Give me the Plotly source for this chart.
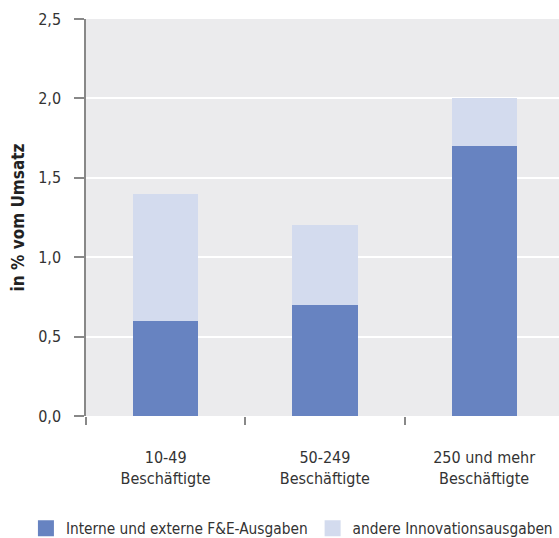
import plotly.graph_objects as go

categories = ["10-49<br>Beschäftigte", "50-249<br>Beschäftigte", "250 und mehr<br>Beschäftigte"]
fue_ausgaben = [0.6, 0.7, 1.7]
andere_ausgaben = [0.8, 0.5, 0.3]

series = [
    ("Interne und externe F&E-Ausgaben", fue_ausgaben, "#6783c1"),
    ("andere Innovationsausgaben", andere_ausgaben, "#d3dbee"),
]

FONT = "DejaVu Sans Condensed, Liberation Sans Narrow, sans-serif"

fig = go.Figure()
for name, vals, color in series:
    fig.add_trace(go.Bar(x=categories, y=vals, name=name, showlegend=False,
                         marker=dict(color=color, line=dict(width=0))))
# legend entries with bigger square swatches
for name, vals, color in series:
    fig.add_trace(go.Scatter(x=[None], y=[None], mode="markers", name=name,
                             marker=dict(symbol="square", size=17, color=color)))

fig.update_layout(
    barmode="stack",
    bargap=0.59,
    width=559, height=538,
    margin=dict(l=86, r=0, t=19, b=122, autoexpand=False),
    paper_bgcolor="white",
    plot_bgcolor="#ebebed",
    separators=",.",
    font=dict(family=FONT, size=15, color="#333333"),
    legend=dict(orientation="h", x=-0.127, xanchor="left", y=-0.283, yanchor="middle",
                font=dict(size=15.3), traceorder="normal", itemwidth=30,
                bgcolor="rgba(0,0,0,0)"),
)
fig.update_xaxes(
    type="category", range=[-0.5, 2.47],
    tickson="boundaries", ticks="outside", ticklen=8, tickcolor="#888888", tickwidth=1.5,
    showline=False, showgrid=False, ticklabelstandoff=30, tickfont=dict(size=16),
)
fig.update_yaxes(
    range=[0, 2.5], dtick=0.5, tickformat=".1f",
    ticks="outside", ticklen=10, tickcolor="#888888", tickwidth=1.5,
    showline=True, linecolor="#888888", linewidth=1.5,
    gridcolor="white", gridwidth=2, zeroline=False,
    ticklabelstandoff=10, tickfont=dict(size=16),
    title=dict(text="<b>in % vom Umsatz</b>", standoff=9, font=dict(size=17, color="#222222")),
)

fig.write_html("out.html", config={"displayModeBar": False},
               post_script="document.body.style.margin='0';")
